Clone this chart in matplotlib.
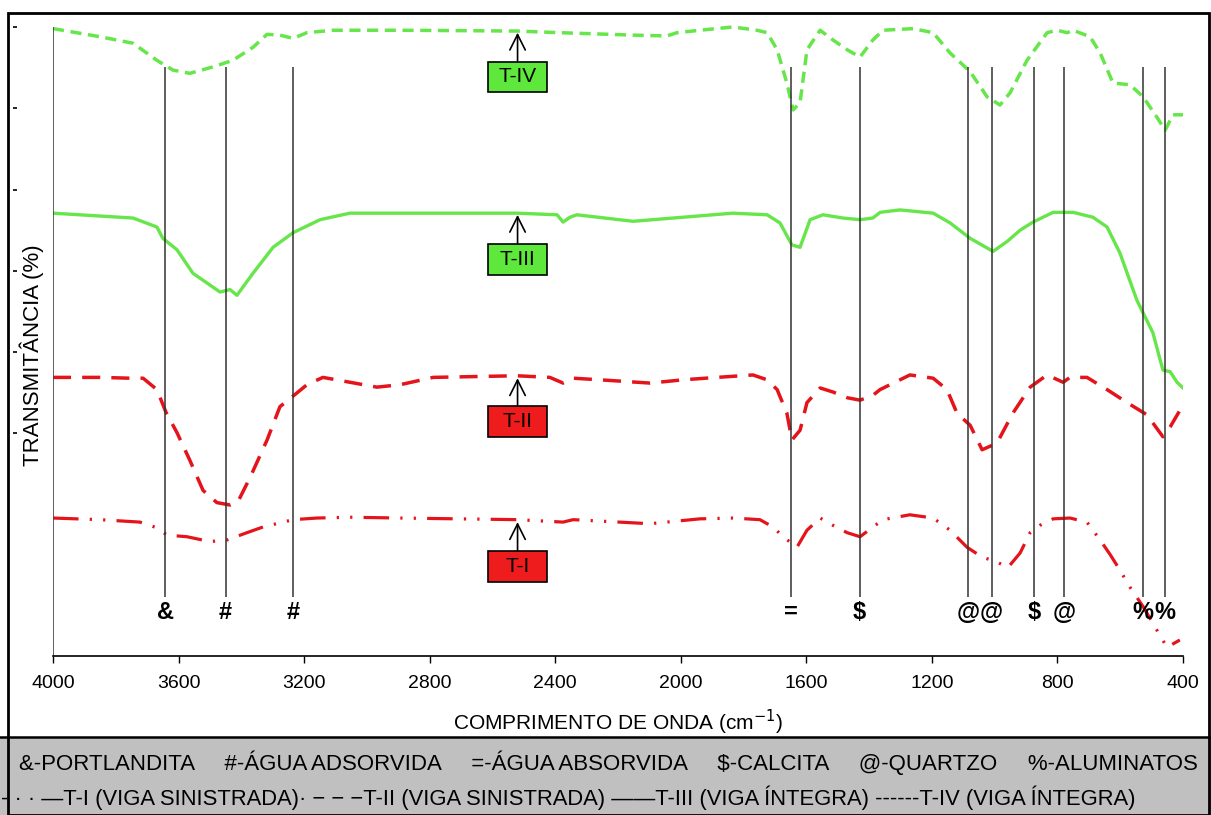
import matplotlib
matplotlib.use('Agg')
import matplotlib.pyplot as plt
from matplotlib.lines import Line2D
from matplotlib.offsetbox import AnnotationBbox, DrawingArea
from matplotlib.patches import Rectangle
from matplotlib.text import Text

plt.rcParams['font.family'] = ['Liberation Sans', 'DejaVu Sans']

# --- espectros (numero de onda cm-1, transmitancia com deslocamento) ---
W_TIV = [4000, 3850, 3745, 3669, 3618, 3564, 3490, 3427, 3363, 3318, 3277,
         3235, 3191, 3108, 2894, 2522, 2385, 2152, 2044, 2012, 1939, 1834,
         1757, 1725, 1693, 1662, 1642, 1620, 1598, 1556, 1515, 1470, 1429,
         1388, 1356, 1260, 1196, 1142, 1078, 1024, 983, 951, 897, 833, 801,
         769, 750, 696, 664, 623, 569, 527, 483, 457, 432, 400]
T_TIV = [99.8, 98.8, 98.0, 95.9, 94.7, 94.3, 95.1, 95.9, 97.5, 99.1, 99.0,
         98.6, 99.3, 99.6, 99.6, 99.5, 99.3, 99.0, 98.9, 99.3, 99.6, 100.0,
         99.6, 99.3, 97.2, 93.1, 89.8, 90.7, 97.2, 99.6, 98.4, 97.2, 96.3,
         98.4, 99.6, 99.8, 99.3, 96.8, 94.5, 91.4, 90.4, 91.9, 95.9, 99.3,
         99.6, 99.3, 99.6, 98.8, 96.8, 93.1, 92.9, 91.4, 88.9, 87.3, 89.2,
         89.2]

W_TIII = [4000, 3745, 3669, 3650, 3605, 3554, 3509, 3468, 3436, 3414, 3363,
          3299, 3235, 3149, 3054, 2894, 2522, 2394, 2375, 2353, 2331, 2152,
          1993, 1834, 1725, 1684, 1646, 1620, 1588, 1547, 1483, 1429, 1388,
          1365, 1302, 1196, 1142, 1078, 1005, 961, 919, 878, 814, 750, 687,
          642, 601, 547, 496, 464, 441, 419, 400]
T_TIII = [77.1, 76.5, 75.4, 74.0, 72.6, 69.7, 68.5, 67.4, 67.7, 67.0, 69.7,
          72.9, 74.7, 76.3, 77.1, 77.1, 77.1, 76.9, 76.0, 76.6, 76.9, 76.1,
          76.6, 77.1, 76.9, 75.9, 73.2, 72.9, 76.3, 76.9, 76.5, 76.3, 76.5,
          77.2, 77.5, 77.1, 75.9, 74.0, 72.4, 73.6, 75.0, 76.0, 77.2, 77.2,
          76.6, 75.4, 72.2, 66.4, 62.4, 57.8, 57.6, 56.3, 55.6]

W_TII = [4000, 3850, 3755, 3713, 3669, 3640, 3605, 3564, 3522, 3478, 3436,
         3411, 3372, 3318, 3277, 3232, 3191, 3140, 3054, 2968, 2894, 2789,
         2522, 2417, 2375, 2343, 2257, 2098, 1993, 1885, 1770, 1725, 1693,
         1662, 1646, 1620, 1598, 1556, 1515, 1470, 1429, 1388, 1365, 1270,
         1196, 1152, 1120, 1078, 1040, 993, 942, 887, 833, 782, 760, 706,
         642, 578, 515, 464, 441, 400]
T_TII = [56.9, 56.9, 56.8, 56.8, 55.4, 52.6, 50.1, 46.7, 43.0, 41.5, 41.2,
         41.6, 44.6, 49.2, 53.3, 54.7, 56.0, 56.9, 56.3, 55.7, 56.0, 56.9,
         57.1, 56.9, 56.2, 56.8, 56.6, 56.2, 56.6, 56.9, 57.2, 56.6, 55.4,
         52.5, 49.2, 50.4, 53.8, 55.6, 55.1, 54.4, 54.1, 54.7, 55.4, 57.2,
         56.8, 55.4, 52.5, 51.0, 48.0, 48.8, 52.5, 55.7, 57.2, 56.3, 56.9,
         56.9, 55.4, 53.8, 52.3, 49.6, 50.8, 53.5]

W_TI = [4000, 3850, 3723, 3669, 3637, 3573, 3500, 3446, 3382, 3331, 3235,
        3159, 3054, 2894, 2522, 2375, 2343, 2098, 1939, 1834, 1748, 1706,
        1674, 1630, 1598, 1556, 1515, 1470, 1429, 1391, 1356, 1270, 1196,
        1142, 1088, 1040, 993, 958, 919, 887, 856, 814, 760, 706, 664, 632,
        601, 569, 527, 483, 451, 410]
T_TI = [39.6, 39.4, 39.1, 38.4, 37.5, 37.3, 36.7, 36.9, 37.8, 38.5, 39.4,
        39.6, 39.7, 39.6, 39.4, 39.1, 39.4, 38.9, 39.5, 39.6, 39.4, 38.5,
        37.3, 36.0, 38.1, 39.6, 38.7, 37.8, 37.3, 38.4, 39.4, 40.0, 39.6,
        38.1, 36.0, 34.8, 34.2, 33.5, 35.3, 37.8, 38.7, 39.5, 39.6, 39.1,
        36.9, 35.1, 33.2, 31.1, 28.7, 25.8, 23.7, 24.6]

# bandas identificadas
PEAKS = [3643, 3450, 3235, 1650, 1430, 1085, 1010, 875, 780, 527, 457]
SYMBOLS = ['&', '#', '#', '=', '$', '@', '@', '$', '@', '%', '%']

# rotulos das amostras
LABEL_W = 2520
LABELS = ['T-IV', 'T-III', 'T-II', 'T-I']
LABEL_TIP = [99.3, 76.9, 56.8, 39.1]
LABEL_BOX = [93.85, 71.46, 51.48, 33.64]

XTICKS = [4000, 3600, 3200, 2800, 2400, 2000, 1600, 1200, 800, 400]
YTICKS = [50, 60, 70, 80, 90, 100]

LEG1 = ('&-PORTLANDITA     #-ÁGUA ADSORVIDA     =-ÁGUA ABSORVIDA     '
        '$-CALCITA     @-QUARTZO     %-ALUMINATOS')
LEG2 = ('- · · —T-I (VIGA SINISTRADA)· − − −T-II (VIGA SINISTRADA) '
        '——T-III (VIGA ÍNTEGRA) ------T-IV (VIGA ÍNTEGRA)')

GREEN = '#66e64a'
RED = '#e5141b'
BOX_GREEN = '#5ee83c'
BOX_RED = '#ee1c1c'

Y_LO, Y_HI = 22.63, 100.86
LINE_TOP, LINE_BOTTOM, SYMBOL_Y = 95.1, 29.9, 28.0

W, H = 1211, 815
fig = plt.figure(figsize=(W / 100, H / 100), dpi=100)
ax = fig.add_axes([53 / W, (H - 656) / H, 1130 / W, 636 / H])

ax.plot(W_TIV, T_TIV, color=GREEN, lw=2.5, dashes=(3.2, 1.9))
ax.plot(W_TIII, T_TIII, color=GREEN, lw=2.4)
ax.plot(W_TII, T_TII, color=RED, lw=2.5, dashes=(5.2, 3.2))
ax.plot(W_TI, T_TI, color=RED, lw=2.3, dashes=(8, 3.5, 0.7, 3.5, 0.7, 3.5))

ax.vlines(PEAKS, LINE_BOTTOM, LINE_TOP, colors='#333333', lw=1.1)
ax.vlines(XTICKS[0], Y_LO, 100, colors='#444444', lw=1.2)
for w, s in zip(PEAKS, SYMBOLS):
    ax.text(w, SYMBOL_Y, s, ha='center', va='center', fontsize=17,
            fontweight='bold')

for lab, tip, box in zip(LABELS, LABEL_TIP, LABEL_BOX):
    fc = BOX_GREEN if lab in ('T-IV', 'T-III') else BOX_RED
    da = DrawingArea(42.5, 22.3)
    da.add_artist(Rectangle((0, 0), 42.5, 22.3, fc=fc, ec='black', lw=1.2))
    da.add_artist(Text(21.25, 11.15, lab, ha='center', va='center',
                       fontsize=15, family='Liberation Sans'))
    ab = AnnotationBbox(da, (LABEL_W, tip), xybox=(LABEL_W, box),
                        xycoords='data', boxcoords='data', frameon=False,
                        pad=0,
                        arrowprops=dict(arrowstyle='->', color='black',
                                        lw=1.2, shrinkA=0, shrinkB=0,
                                        mutation_scale=20))
    ax.add_artist(ab)

ax.set_xlim(4000, 400)
ax.set_ylim(Y_LO, Y_HI)
ax.set_xticks(XTICKS)
ax.set_yticks(YTICKS)
ax.set_yticklabels([])
ax.tick_params(axis='x', length=5, width=1, labelsize=14, pad=9)
ax.tick_params(axis='y', length=3, width=1.2, direction='out')
for side in ('top', 'right'):
    ax.spines[side].set_visible(False)
ax.spines['left'].set_position(('outward', 26))
ax.spines['left'].set_color('none')
ax.spines['bottom'].set_linewidth(1.2)
ax.set_xlabel('COMPRIMENTO DE ONDA (cm$^{-1}$)', fontsize=15)
ax.xaxis.set_label_coords(0.5, -0.082)
fig.text(32 / W, 1 - 355 / H, 'TRANSMITÂNCIA (%)', rotation=90,
         ha='center', va='center', fontsize=16)

# moldura e caixa da legenda
leg_top = (H - 737) / H
fig.add_artist(Rectangle((0, 0), 1, leg_top, transform=fig.transFigure,
                         fc='#c0c0c0', ec='none'))
fig.add_artist(Line2D([0, 1], [leg_top, leg_top], transform=fig.transFigure,
                      color='black', lw=1.8))
fig.add_artist(Rectangle((8 / W, 0), 1201 / W, (H - 13) / H,
                         transform=fig.transFigure, fill=False, ec='black',
                         lw=2))
fig.text(608 / W, 1 - 763 / H, LEG1, ha='center', va='center', fontsize=16)
fig.text(1 / W, 1 - 798 / H, LEG2, ha='left', va='center', fontsize=15.8)

fig.savefig('out.png', dpi=100)
